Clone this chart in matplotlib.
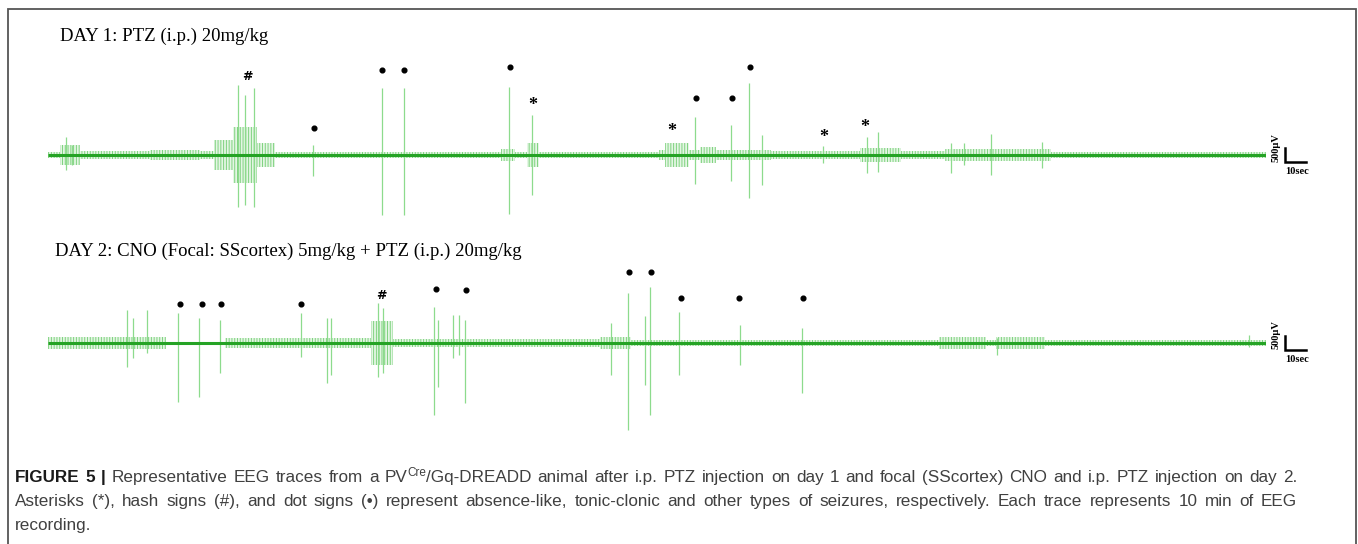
import numpy as np
import matplotlib
import matplotlib.pyplot as plt
from matplotlib.patches import Rectangle

matplotlib.use('Agg')
plt.rcParams['hatch.linewidth'] = 0.7

W, H = 1358, 544

# ---- Day 1 trace (time in s, amplitude in uV) ----
d1_edges = [0, 6, 16, 50, 75, 82, 91, 103, 112, 223, 230, 236, 242, 301, 304, 316,
            321, 329, 356, 400, 420, 442, 494, 600]
d1_amp = [105, 350, 140, 175, 140, 525, 980, 420, 105, 210, 105, 420, 105, 175, 420,
          175, 280, 175, 140, 245, 140, 210, 120]
d1_spike_t = [8.9, 11.8, 93.6, 97.0, 101.5, 130.5, 164.5, 175.4, 227.1, 238.4, 318.7,
              336.5, 345.3, 351.7, 381.8, 403.4, 408.9, 444.8, 451.2, 464.5, 489.7]
d1_spike_up = [630, 350, 2450, 2100, 2345, 350, 2345, 2345, 2380, 1400, 1330,
               1050, 2520, 700, 315, 630, 805, 420, 420, 735, 455]
d1_spike_dn = [-525, -350, -1820, -1750, -1820, -735, -2100, -2100, -2065, -1400, -1015,
               -910, -1505, -1050, -280, -630, -595, -630, -350, -700, -455]
d1_mark_t = [98.0, 131.0, 164.5, 175.4, 227.6, 238.9, 307.4, 319.2, 336.9, 345.8, 382.3, 402.5]
d1_mark_v = [2730, 945, 2975, 2975, 3080, 1715, 805, 1995, 1995, 3080, 595, 980]
d1_mark_k = ['#', '.', '.', '.', '.', '*', '*', '.', '.', '.', '*', '*']

# ---- Day 2 trace ----
d2_edges = [0, 58, 87, 159, 170, 272, 287, 439, 462, 467, 491, 600]
d2_amp = [200, 50, 175, 770, 140, 210, 120, 210, 105, 210, 120]
d2_spike_t = [38.9, 41.9, 48.8, 64.0, 74.4, 84.7, 124.6, 137.4, 139.4, 162.6, 165.0,
              190.1, 192.1, 199.5, 202.5, 205.4, 277.3, 285.7, 294.1, 296.6, 310.8,
              340.9, 371.4, 467.5, 591.6]
d2_spike_up = [1155, 875, 1155, 1050, 875, 805, 1050, 875, 875, 1400, 1225,
               1260, 805, 980, 980, 805, 700, 1750, 945, 1960, 1085,
               630, 525, 175, 280]
d2_spike_dn = [-840, -525, -350, -2065, -1890, -1050, -490, -1400, -1120, -1190, -1050,
               -2520, -1540, -525, -420, -2100, -1120, -3045, -1470, -2520, -1120,
               -770, -1750, -420, -140]
d2_mark_t = [65.0, 75.9, 85.2, 124.6, 164.0, 191.1, 205.9, 286.2, 297.0, 311.8, 340.4, 371.9]
d2_mark_v = [1365, 1365, 1365, 1365, 1680, 1890, 1855, 2485, 2485, 1575, 1575, 1575]
d2_mark_k = ['.', '.', '.', '.', '#', '.', '.', '.', '.', '.', '.', '.']

titles = ["DAY 1: PTZ (i.p.) 20mg/kg",
          "DAY 2: CNO (Focal: SScortex) 5mg/kg + PTZ (i.p.) 20mg/kg"]

cap_line1 = ("Representative EEG traces from a PV|Cre|/Gq-DREADD animal after i.p. PTZ injection "
             "on day 1 and focal (SScortex) CNO and i.p. PTZ injection on day 2.")
cap_line2 = ("Asterisks (*), hash signs (#), and dot signs (•) represent absence-like, tonic-clonic "
             "and other types of seizures, respectively. Each trace represents 10 min of EEG")
cap_line3 = "recording."

fig = plt.figure(figsize=(W / 100, H / 100), dpi=100)
fig.patch.set_facecolor('white')


def px_axes(x0, y0, x1, y1):
    return fig.add_axes([x0 / W, 1 - y1 / H, (x1 - x0) / W, (y1 - y0) / H])


def draw_trace(ax, edges, amp, st, su, sd, mt, mv, mk, ylim, bar_txt_v, sec_v):
    ax.set_xlim(0, 600)
    ax.set_ylim(*ylim)
    ax.axis('off')
    e = np.array(edges, dtype=float)
    a = np.array(amp + [amp[-1]], dtype=float)
    ax.fill_between(e, -a, a, step='post', facecolor='#e4f6e4', edgecolor='#7fd27f',
                    hatch='||||||', linewidth=0)
    ax.vlines(st, sd, su, color='#8ddb8d', lw=0.9)
    ax.plot([0, 600], [0, 0], color='#25a325', lw=2.2, solid_capstyle='butt')
    for t, v, k in zip(mt, mv, mk):
        if k == '.':
            ax.plot(t, v, 'o', color='black', ms=3.4)
        elif k == '#':
            ax.text(t, v, k, ha='center', va='center', fontsize=9, fontweight='bold',
                    family='DejaVu Sans')
        else:
            ax.text(t, v, k, ha='center', va='center', fontsize=13, fontweight='bold',
                    family='Liberation Serif')
    # scale bar: 500 uV by 10 s
    ax.plot([609.5, 609.5, 619.5], [250, -250, -250], color='black', lw=1.8,
            clip_on=False, solid_joinstyle='miter')
    ax.text(605.0, bar_txt_v, "500µV", rotation=90, ha='center', va='center', fontsize=7.5,
            fontweight='bold', family='Liberation Serif', clip_on=False)
    ax.text(609.5, sec_v, "10sec", ha='left', va='center', fontsize=7.5,
            fontweight='bold', family='Liberation Serif', clip_on=False)


ax1 = px_axes(48, 40, 1266, 230)
draw_trace(ax1, d1_edges, d1_amp, d1_spike_t, d1_spike_up, d1_spike_dn,
           d1_mark_t, d1_mark_v, d1_mark_k, (-2625, 4025), 245, -560)

ax2 = px_axes(48, 262, 1266, 440)
draw_trace(ax2, d2_edges, d2_amp, d2_spike_t, d2_spike_up, d2_spike_dn,
           d2_mark_t, d2_mark_v, d2_mark_k, (-3395, 2835), 300, -560)

fig.text(60 / W, 1 - 41 / H, titles[0], family='Liberation Serif', fontsize=13.5,
         va='baseline', ha='left')
fig.text(55 / W, 1 - 256 / H, titles[1], family='Liberation Serif', fontsize=13.5,
         va='baseline', ha='left')

# frame
fig.add_artist(Rectangle((8 / W, -0.05), (1356 - 8) / W, 1 - 9 / H + 0.05,
                         transform=fig.transFigure, fill=False, edgecolor='#555555', lw=1.3))

# caption (justified lines)
renderer = fig.canvas.get_renderer()
cap_fs = 12.3
cap_col = '#404040'
cap_x0, cap_x1 = 15, 1297


def make_word(txt, y, **kw):
    style = dict(family='Liberation Sans', fontsize=cap_fs, color=cap_col, va='baseline')
    style.update(kw)
    dy = style.pop('dy', 0)
    return fig.text(0, 1 - (y - dy) / H, txt, **style)


def caption_line(y, words, justify=True):
    built = []
    for runs in words:
        arts = [make_word(t, y, **kw) for t, kw in runs]
        widths = [a.get_window_extent(renderer).width for a in arts]
        built.append((arts, widths))
    total = sum(sum(w) for _, w in built)
    gap = (cap_x1 - cap_x0 - total) / (len(built) - 1) if justify else cap_fs * 0.28 * 100 / 72
    x = cap_x0
    for arts, widths in built:
        for a, w in zip(arts, widths):
            a.set_x(x / W)
            x += w
        x += gap


def split_words(line):
    words = []
    for w in line.split(' '):
        if '|' in w:
            a, b, c = w.split('|')
            words.append([(a, {}), (b, dict(fontsize=8.5, dy=6)), (c, {})])
        else:
            words.append([(w, {})])
    return words


bold = dict(fontweight='bold', color='#1a1a1a')
line1_words = [[("FIGURE", bold)], [("5", bold)], [("|", bold)]] + split_words(cap_line1)
caption_line(482, line1_words)
caption_line(506, split_words(cap_line2))
caption_line(530, split_words(cap_line3), justify=False)

fig.savefig('out.png', dpi=100)
